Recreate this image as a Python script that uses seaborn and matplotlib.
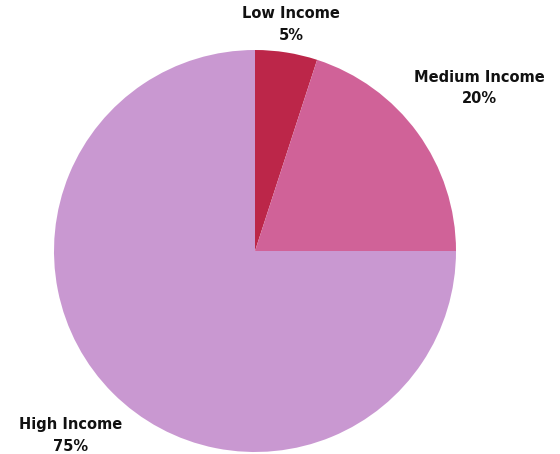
import numpy as np
import matplotlib
matplotlib.use("Agg")
import matplotlib.pyplot as plt
import seaborn as sns

categories = ["Low Income", "Medium Income", "High Income"]
shares = [5, 20, 75]
colors = ["#BC2649", "#D06298", "#C998D1"]

sns.set_style("white")
plt.rcParams["font.family"] = ["DejaVu Sans"]

fig = plt.figure(figsize=(5.6, 4.54), dpi=100)
ax = fig.add_axes([0, 0, 1, 1])

center = (255, 203)
radius = 201
wedges, _ = ax.pie(shares, colors=colors, startangle=90, counterclock=False,
                   center=center, radius=radius, frame=True,
                   wedgeprops={"linewidth": 0})
ax.set_xlim(0, 560)
ax.set_ylim(0, 454)
ax.set_aspect("equal")
ax.axis("off")

# label distance per wedge (fraction of radius)
label_dist = [1.14, 1.38, 1.30]
for w, name, val, d in zip(wedges, categories, shares, label_dist):
    ang = np.deg2rad((w.theta1 + w.theta2) / 2)
    x = center[0] + d * radius * np.cos(ang)
    y = center[1] + d * radius * np.sin(ang)
    ax.text(x, y, f"{name}\n{val}%", ha="center", va="center",
            fontsize=10.5, fontweight="bold", color="#111111", linespacing=1.55)

fig.savefig("out.png", dpi=100)
